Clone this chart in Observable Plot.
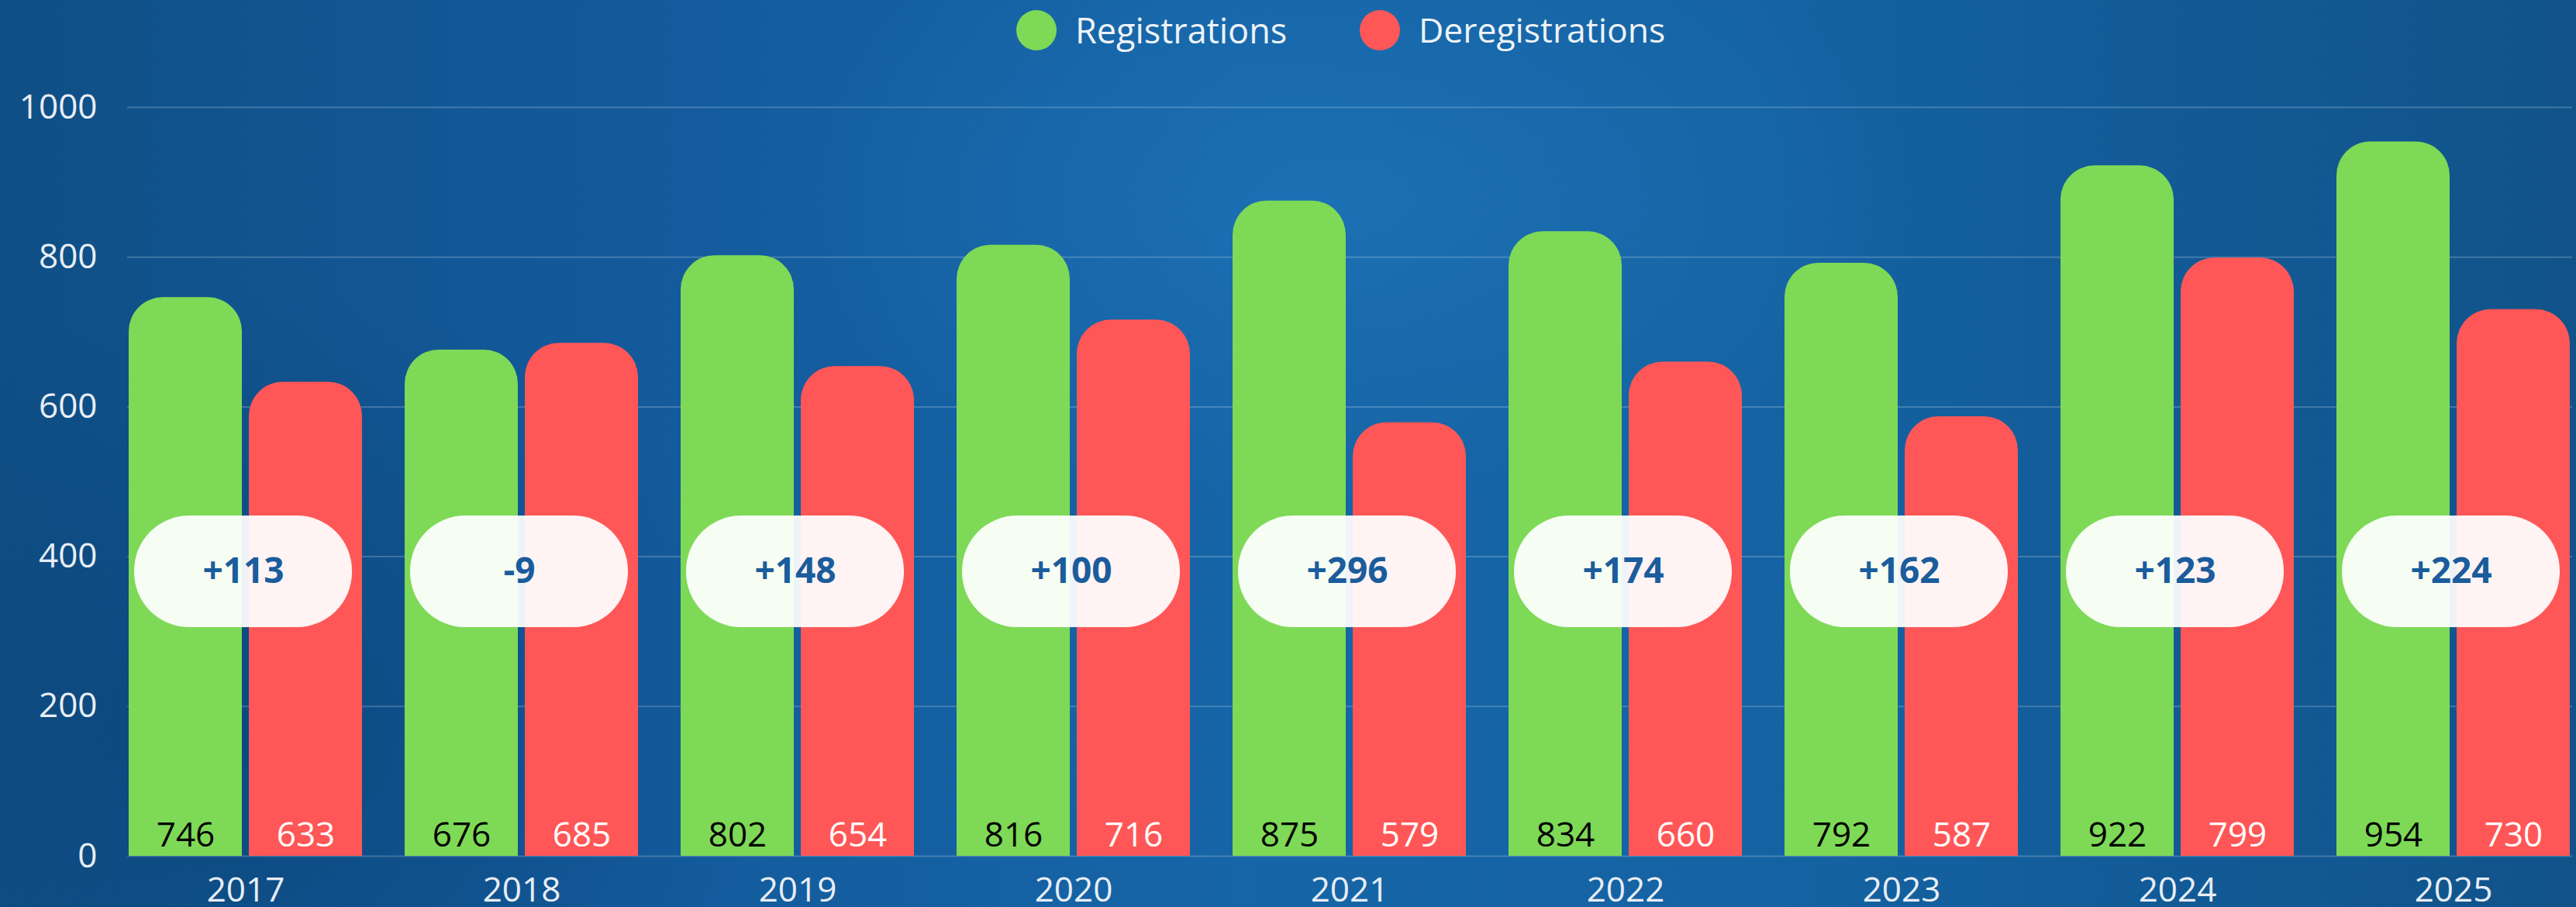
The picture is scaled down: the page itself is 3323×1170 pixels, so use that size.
<!DOCTYPE html>
<html>
<head>
<meta charset="utf-8">
<script src="https://cdn.jsdelivr.net/npm/d3@7"></script>
<script src="https://cdn.jsdelivr.net/npm/@observablehq/plot@0.6"></script>
<style>
  html, body { margin: 0; padding: 0; }
  body {
    width: 3323px; height: 1170px; overflow: hidden; position: relative;
    font-family: "Open Sans", "Lato", sans-serif;
    background:
      radial-gradient(ellipse 30% 45% at 52% 22%, rgba(35,125,195,0.45), rgba(35,125,195,0) 75%),
      radial-gradient(ellipse 25% 60% at 10% 80%, rgba(8,60,110,0.45), rgba(8,60,110,0) 80%),
      linear-gradient(90deg, #0f4f85 0%, #13599a 22%, #1665a7 48%, #1563a3 68%, #125a96 85%, #115389 100%);
  }
  #legend { position: absolute; left: 0; top: 0; width: 3323px; height: 80px; }
  .sw { position: absolute; width: 52px; height: 52px; border-radius: 50%; top: 13px; }
  .lab { position: absolute; top: 38px; transform: translateY(-50%); color: #eef3f8; line-height: 1; white-space: nowrap; }
  #chart { position: absolute; left: 0; top: 80px; }
</style>
</head>
<body>
<div id="legend"></div>
<div id="chart"></div>
<script>
const years = ["2017", "2018", "2019", "2020", "2021", "2022", "2023", "2024", "2025"];
const registrations = [746, 676, 802, 816, 875, 834, 792, 922, 954];
const deregistrations = [633, 685, 654, 716, 579, 660, 587, 799, 730];
const netLabels = ["+113", "-9", "+148", "+100", "+296", "+174", "+162", "+123", "+224"];
const seriesNames = ["Registrations", "Deregistrations"];
const seriesColors = ["#7ED957", "#FF5757"];
const yTicks = [0, 200, 400, 600, 800, 1000];

const rows = years.map((year, i) => ({
  year,
  registrations: registrations[i],
  deregistrations: deregistrations[i],
  net: netLabels[i]
}));

// Legend
const legend = document.getElementById("legend");
const legendPos = [{c: 1311, t: 1387, fs: 45}, {c: 1754, t: 1830, fs: 44.5}];
seriesNames.forEach((name, i) => {
  const sw = document.createElement("div");
  sw.className = "sw";
  sw.style.left = legendPos[i].c + "px";
  sw.style.background = seriesColors[i];
  legend.appendChild(sw);
  const lab = document.createElement("div");
  lab.className = "lab";
  lab.style.left = legendPos[i].t + "px";
  lab.style.fontSize = legendPos[i].fs + "px";
  lab.textContent = name;
  legend.appendChild(lab);
});

const font = "Open Sans, Lato, sans-serif";
const plot = Plot.plot({
  width: 3323,
  height: 1090,
  marginTop: 58,
  marginBottom: 66,
  marginLeft: 164,
  marginRight: 5,
  style: { background: "transparent", fontFamily: font, overflow: "visible" },
  x: { domain: years, paddingInner: 0.154, paddingOuter: 0, axis: null, label: null },
  y: { domain: [0, 1000], axis: null, label: null },
  marks: [
    Plot.gridY(yTicks, { stroke: "#ffffff", strokeOpacity: 0.2, strokeWidth: 2 }),
    Plot.axisY(yTicks, { tickSize: 0, tickPadding: 39, fontSize: 44, fill: "#e8eef6", tickFormat: d => String(d), label: null }),
    Plot.axisX({ tickSize: 0, tickPadding: 27, fontSize: 44, fill: "#e8eef6", label: null }),
    Plot.barY(rows, { x: "year", y: "registrations", fill: seriesColors[0], insetRight: 155, ry1: 44 }),
    Plot.barY(rows, { x: "year", y: "deregistrations", fill: seriesColors[1], insetLeft: 155, ry1: 44 }),
    Plot.text(rows, { x: "year", y: 0, text: d => String(d.registrations), dx: -77.5, dy: -13, lineAnchor: "bottom", fill: "#000000", fontSize: 44 }),
    Plot.text(rows, { x: "year", y: 0, text: d => String(d.deregistrations), dx: 77.5, dy: -13, lineAnchor: "bottom", fill: "#ffffff", fontSize: 44 }),
    Plot.cell(rows, { x: "year", fill: "#ffffff", fillOpacity: 0.93, insetLeft: 7, insetRight: 13, insetTop: 527, insetBottom: 295, rx: 71, ry: 71 }),
    Plot.text(rows, { x: "year", text: "net", frameAnchor: "bottom", dy: -367, dx: -3, lineAnchor: "middle", fill: "#1a5c9c", fontSize: 46, fontWeight: "bold" })
  ]
});
document.getElementById("chart").appendChild(plot);
</script>
</body>
</html>
